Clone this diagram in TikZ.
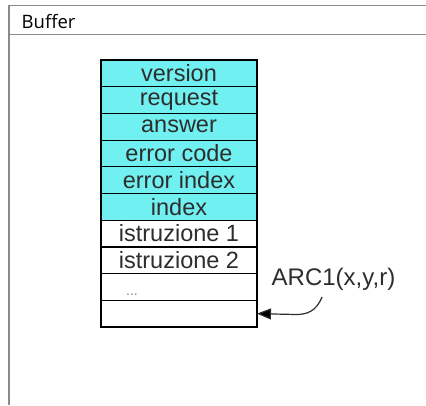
\documentclass[tikz,border=0pt]{standalone}
\usepackage{fontspec}
\setmainfont{Liberation Sans}
\newfontfamily\hdrfont{Open Sans}
\usetikzlibrary{arrows.meta}
\definecolor{cellcyan}{RGB}{112,240,240}
\definecolor{framegray}{RGB}{138,138,138}
\definecolor{txtgray}{RGB}{45,45,45}
\begin{document}
\begin{tikzpicture}[x=1pt,y=-1pt,
  rowbox/.style={draw=black,line width=1.2pt,minimum width=156pt,minimum height=26.7pt,
    inner sep=0pt,outer sep=0pt,anchor=north west,text=txtgray,
    font=\fontsize{23.5}{23.5}\selectfont},
  cyanrow/.style={rowbox,fill=cellcyan},
  whiterow/.style={rowbox,fill=white},
  frameline/.style={draw=framegray,line width=1.4pt},
  pointer/.style={draw=txtgray,line width=1.2pt,-{Triangle[length=14pt,width=11pt,fill=black]}}]
\useasboundingbox (0,0) rectangle (426,405);
\fill[white] (0,0) rectangle (426,405);
% table frame
\draw[frameline] (426,5.7) -- (9,5.7) -- (9,405);
\draw[frameline] (9,34.3) -- (426,34.3);
\node[anchor=base west,inner sep=0pt,font=\hdrfont\fontsize{18.5}{18.5}\selectfont] (hdr) at (21.5,28.3) {Buffer};
% buffer rows
\node[cyanrow] (r1) at (101,60) {version};
\node[cyanrow] (r2) at (101,86.7) {request};
\node[cyanrow] (r3) at (101,113.4) {answer};
\node[cyanrow] (r4) at (101,140.1) {error code};
\node[cyanrow] (r5) at (101,166.8) {error index};
\node[cyanrow] (r6) at (101,193.5) {index};
\node[whiterow] (r7) at (101,220.2) {istruzione 1};
\node[whiterow] (r8) at (101,246.9) {istruzione 2};
\node[whiterow] (r9) at (101,273.6) {};
\node[whiterow] (r10) at (101,300.3) {};
\node[anchor=base west,inner sep=0pt,text=gray,font=\fontsize{14}{14}\selectfont] (dots) at (126,295) {...};
% label and pointer
\node[anchor=base west,inner sep=0pt,text=txtgray,font=\fontsize{24}{24}\selectfont] (arc) at (271.5,285) {ARC1(x,y,r)};
\coordinate (arcstart) at (322,297);
\draw[pointer] (arcstart) .. controls (316,312) and (306,314.5) .. (296,314.5) -- (r10.east);
\end{tikzpicture}
\end{document}
